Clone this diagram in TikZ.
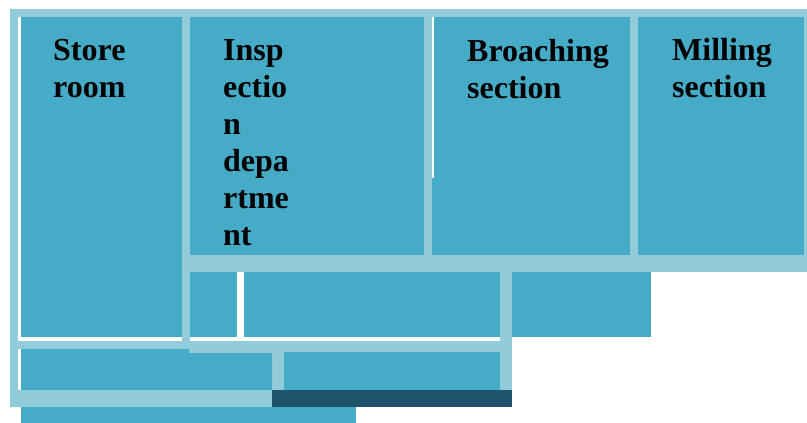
\documentclass[tikz,border=0pt]{standalone}
\usepackage{fontspec}
\setmainfont{Liberation Serif}
\definecolor{roomblue}{HTML}{46ABC7}
\definecolor{wallblue}{HTML}{92CCDA}
\definecolor{darkwall}{HTML}{1F5369}

\begin{document}
\begin{tikzpicture}[x=1pt,y=-1pt,
	roomname/.style={anchor=base west, inner sep=0pt, align=left, font=\fontsize{32}{37}\selectfont\bfseries}]
	\useasboundingbox (0,0) rectangle (807,423);

	% walls
	\fill[wallblue] (10,9) rectangle (807,272);
	\fill[wallblue] (10,9) rectangle (512,407);

	% rooms
	\fill[roomblue] (21,17) rectangle (182,337);
	\fill[roomblue] (190,17) rectangle (424,255);
	\fill[roomblue] (432,17) rectangle (630,255);
	\fill[roomblue] (638,17) rectangle (804,255);
	\fill[roomblue] (190,272) rectangle (237,337);
	\fill[roomblue] (244,272) rectangle (500,337);
	\fill[roomblue] (512,272) rectangle (651,337);
	\fill[roomblue] (21,349) -- (189,349) -- (189,353) -- (272,353) -- (272,390) -- (21,390) -- cycle;
	\fill[roomblue] (284,352) rectangle (500,390);
	\fill[roomblue] (21,407) rectangle (356,423);
	\fill[darkwall] (272,390) rectangle (512,407);

	% white gaps
	\fill[white] (18,17) rectangle (21,337);
	\fill[white] (18,337) rectangle (182,341);
	\fill[white] (190,337) rectangle (500,341);
	\fill[white] (237,272) rectangle (244,337);
	\fill[white] (18,349) rectangle (21,390);
	\fill[white] (432,17) rectangle (433.5,178);

	% base = last line
	\node (store) [roomname] at (53,97) {Store\\room};
	\node (inspection) [roomname] at (223,245) {Insp\\ectio\\n\\depa\\rtme\\nt};
	\node (broaching) [roomname] at (467,98) {Broaching\\section};
	\node (milling) [roomname] at (672,97) {Milling\\section};
\end{tikzpicture}
\end{document}
